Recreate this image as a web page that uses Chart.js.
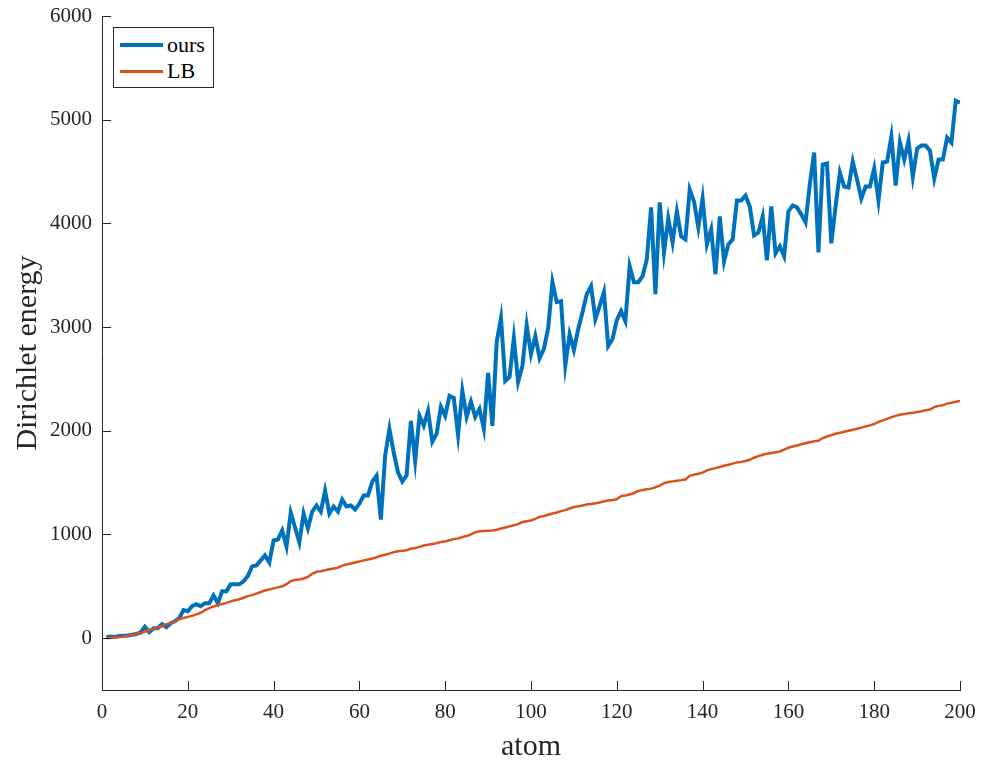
<!DOCTYPE html>
<html>
<head>
<meta charset="utf-8">
<script src="https://cdn.jsdelivr.net/npm/chart.js@4.4.0/dist/chart.umd.min.js"></script>
<style>
  html, body { margin: 0; padding: 0; background: #fff; }
  #wrap { position: relative; width: 982px; height: 762px; }
  #legend {
    position: absolute; left: 113px; top: 27px; width: 99px; height: 59px;
    border: 1px solid #262626; background: #fff;
    font-family: 'Liberation Serif', serif; font-size: 22px; color: #000;
  }
  .row { position: absolute; left: 0; height: 24px; line-height: 24px; }
  .row span.line { position: absolute; left: 6px; width: 43px; top: 11px; }
  .row span.txt { position: absolute; left: 53px; top: 0; white-space: nowrap; }
</style>
</head>
<body>
<div id="wrap">
  <canvas id="chart" width="982" height="762"></canvas>
  <div id="legend">
    <div class="row" style="top:5px"><span class="line" style="height:4px;background:#0072BD;top:10px"></span><span class="txt">ours</span></div>
    <div class="row" style="top:31px"><span class="line" style="height:3px;background:#D95319"></span><span class="txt">LB</span></div>
  </div>
</div>
<script>
// x positions: atom index 1..200
const atoms = Array.from({ length: 200 }, (_, i) => i + 1);

// Dirichlet energy, our method
const oursEnergy = [
  10, 15, 12, 20, 22, 25, 32, 40, 55, 110,
  58, 96, 96, 135, 106, 144, 163, 192, 270, 260,
  308, 327, 308, 337, 337, 413, 337, 452, 452, 519,
  519, 519, 548, 600, 692, 702, 750, 798, 730, 942,
  952, 1038, 885, 1211, 1067, 923, 1202, 1058, 1221, 1279,
  1221, 1423, 1202, 1269, 1221, 1337, 1269, 1279, 1240, 1298,
  1375, 1375, 1510, 1567, 1144, 1760, 2019, 1790, 1600, 1510,
  1570, 2096, 1710, 2144, 2050, 2192, 1894, 1970, 2231, 2144,
  2336, 2317, 1960, 2385, 2134, 2280, 2134, 2211, 2019, 2558,
  2048, 2856, 3087, 2480, 2519, 2894, 2471, 2625, 3019, 2740,
  2913, 2700, 2790, 2990, 3433, 3240, 3250, 2630, 2930, 2780,
  2980, 3144, 3317, 3394, 3077, 3202, 3337, 2817, 2885, 3067,
  3154, 3058, 3587, 3433, 3433, 3490, 3654, 4154, 3317, 4202,
  3721, 4048, 3817, 4115, 3875, 3846, 4327, 4212, 3962, 4240,
  3798, 3942, 3510, 4067, 3635, 3798, 3846, 4221, 4221, 4269,
  4163, 3885, 3913, 4067, 3644, 4163, 3712, 3779, 3683, 4115,
  4173, 4154, 4087, 4010, 4380, 4683, 3721, 4567, 4577, 3808,
  4163, 4490, 4356, 4346, 4596, 4423, 4240, 4356, 4356, 4529,
  4221, 4587, 4596, 4837, 4365, 4779, 4615, 4798, 4452, 4721,
  4750, 4750, 4702, 4433, 4615, 4615, 4827, 4779, 5183, 5163
];

// Lower bound (LB)
const lbEnergy = [
  0, 3, 6, 10, 15, 25, 32, 42, 50, 62,
  82, 90, 100, 115, 135, 145, 160, 185, 195, 205,
  215, 230, 245, 270, 290, 305, 320, 330, 340, 355,
  365, 375, 390, 405, 415, 430, 445, 460, 470, 480,
  490, 500, 520, 550, 560, 565, 575, 590, 620, 640,
  645, 655, 665, 672, 680, 700, 710, 720, 730, 740,
  750, 758, 768, 780, 795, 805, 815, 830, 838, 842,
  848, 862, 870, 880, 893, 900, 908, 915, 928, 935,
  945, 955, 962, 975, 985, 1000, 1020, 1030, 1034, 1036,
  1038, 1045, 1058, 1068, 1078, 1088, 1100, 1120, 1128, 1135,
  1150, 1170, 1178, 1190, 1202, 1212, 1225, 1235, 1250, 1265,
  1272, 1280, 1288, 1293, 1300, 1308, 1320, 1328, 1333, 1340,
  1370, 1375, 1385, 1400, 1420, 1428, 1435, 1442, 1455, 1471,
  1495, 1505, 1512, 1519, 1524, 1530, 1565, 1577, 1585, 1596,
  1618, 1630, 1640, 1650, 1662, 1672, 1683, 1695, 1700, 1708,
  1720, 1740, 1755, 1769, 1778, 1785, 1792, 1800, 1818, 1837,
  1848, 1858, 1870, 1880, 1890, 1898, 1904, 1930, 1945, 1958,
  1971, 1980, 1990, 2000, 2010, 2019, 2030, 2042, 2052, 2065,
  2085, 2100, 2115, 2130, 2144, 2155, 2162, 2168, 2173, 2180,
  2188, 2198, 2205, 2228, 2240, 2245, 2262, 2270, 2280, 2288
];

const xTicks = [0, 20, 40, 60, 80, 100, 120, 140, 160, 180, 200];
const yTicks = [0, 1000, 2000, 3000, 4000, 5000, 6000];

const axisColor = '#262626';
const serif = "'Liberation Serif', 'DejaVu Serif', serif";

// MATLAB-style inward tick marks
const inwardTicks = {
  id: 'inwardTicks',
  afterDraw(chart) {
    const { ctx, chartArea, scales } = chart;
    ctx.save();
    ctx.strokeStyle = axisColor;
    ctx.lineWidth = 1;
    ctx.beginPath();
    xTicks.forEach(v => {
      const px = Math.round(scales.x.getPixelForValue(v)) + 0.5;
      ctx.moveTo(px, chartArea.bottom);
      ctx.lineTo(px, chartArea.bottom - 9);
    });
    yTicks.forEach(v => {
      const py = Math.round(scales.y.getPixelForValue(v)) + 0.5;
      ctx.moveTo(chartArea.left, py);
      ctx.lineTo(chartArea.left + 9, py);
    });
    ctx.stroke();
    ctx.restore();
  }
};

new Chart(document.getElementById('chart'), {
  type: 'line',
  data: {
    labels: atoms,
    datasets: [
      {
        label: 'ours',
        data: oursEnergy,
        borderColor: '#0072BD',
        borderWidth: 4,
        pointRadius: 0,
        tension: 0,
        order: 1
      },
      {
        label: 'LB',
        data: lbEnergy,
        borderColor: '#D95319',
        borderWidth: 2.5,
        pointRadius: 0,
        tension: 0,
        order: 0
      }
    ]
  },
  options: {
    responsive: false,
    animation: false,
    layout: { padding: { top: 16, right: 22, left: 0, bottom: 0 } },
    plugins: {
      legend: { display: false },
      tooltip: { enabled: false }
    },
    scales: {
      x: {
        type: 'linear',
        min: 0,
        max: 200,
        afterBuildTicks: s => { s.ticks = xTicks.map(v => ({ value: v })); },
        afterFit: s => { s.height = 72; s.paddingLeft = 0; s.paddingRight = 0; },
        grid: { display: false, drawTicks: false },
        border: { display: true, color: axisColor, width: 1 },
        ticks: {
          color: axisColor,
          padding: 10,
          maxRotation: 0,
          callback: v => String(v),
          font: { family: serif, size: 21 }
        },
        title: {
          display: true,
          text: 'atom',
          color: axisColor,
          padding: { top: 0, bottom: 0 },
          font: { family: serif, size: 30, lineHeight: 1 }
        }
      },
      y: {
        min: -500,
        max: 6000,
        afterBuildTicks: s => { s.ticks = yTicks.map(v => ({ value: v })); },
        afterFit: s => { s.width = 102; s.paddingTop = 0; s.paddingBottom = 0; },
        grid: { display: false, drawTicks: false },
        border: { display: true, color: axisColor, width: 1 },
        ticks: {
          color: axisColor,
          padding: 10,
          callback: v => String(v),
          font: { family: serif, size: 21 }
        },
        title: {
          display: true,
          text: 'Dirichlet energy',
          color: axisColor,
          padding: { top: 13, bottom: 0 },
          font: { family: serif, size: 30, lineHeight: 1 }
        }
      }
    }
  },
  plugins: [inwardTicks]
});
</script>
</body>
</html>
